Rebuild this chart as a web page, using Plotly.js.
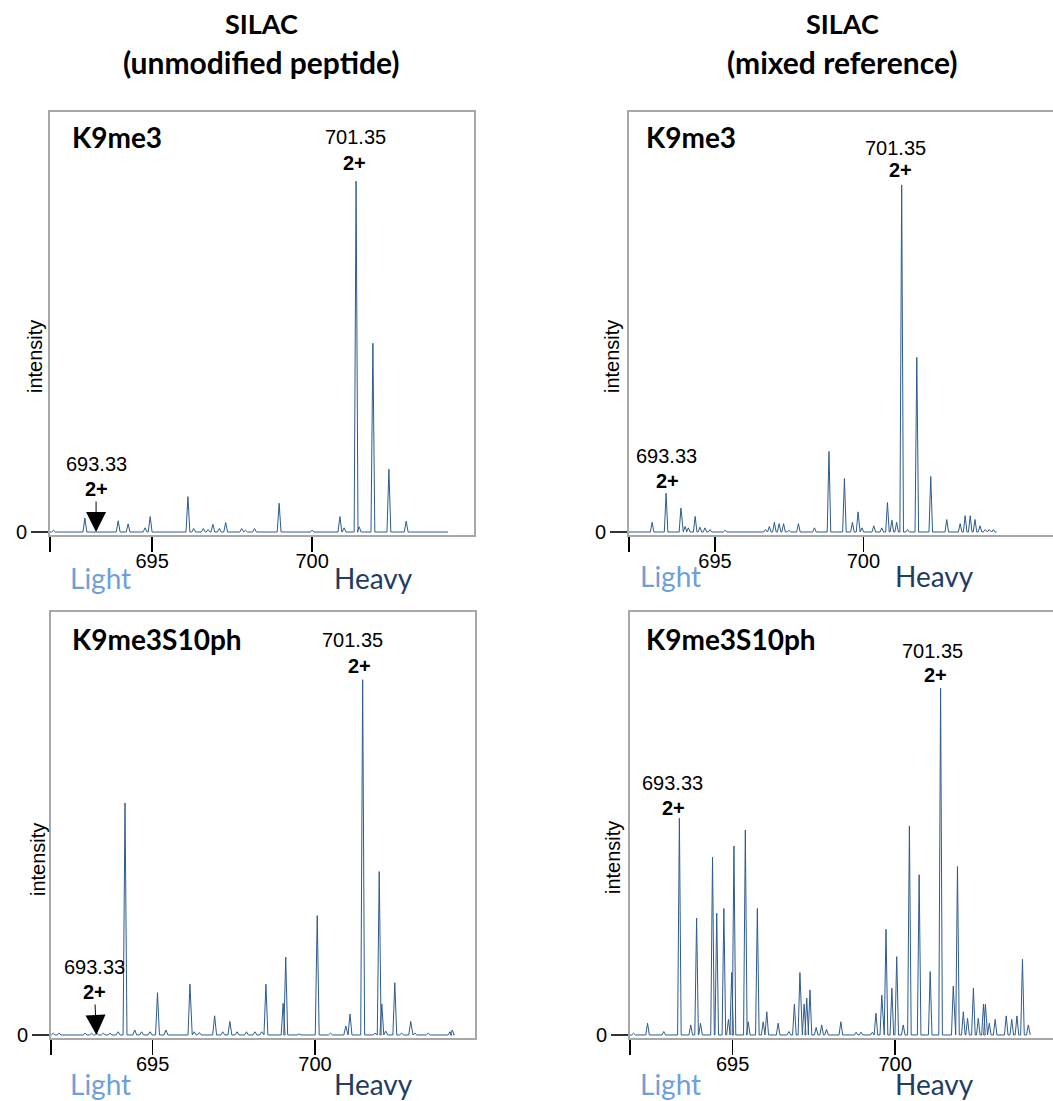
<!DOCTYPE html>
<html><head><meta charset="utf-8">
<script src="https://cdn.plot.ly/plotly-3.0.1.min.js"></script>
<style>html,body{margin:0;padding:0;background:#fff;}#chart{width:1053px;height:1101px;}</style>
</head><body><div id="chart"></div>
<script>
// ---------------- DATA ----------------
const columnHeaders = ['SILAC', '(unmodified peptide)', 'SILAC', '(mixed reference)'];
const panelLabels = ['K9me3', 'K9me3', 'K9me3S10ph', 'K9me3S10ph'];
const tickVals = [695, 700];
const tickText = ['695', '700'];
const yTickVals = [0];
const yTickText = ['0'];
const yTitle = 'intensity';
const lightLabel = 'Light';
const heavyLabel = 'Heavy';
const lightMz = '693.33';
const heavyMz = '701.35';
const chargeLabel = '2+';

// Top-left: K9me3, SILAC unmodified peptide (relative intensity, max = 100)
const tlScan = [691.81, 704.25];
const tlMz  = [691.92, 692.90, 693.94, 694.25, 694.78, 694.94, 696.12, 696.30, 696.60, 696.75, 696.90, 697.10, 697.30, 697.80, 697.92, 698.20, 698.97, 700.00, 700.87, 701.00, 701.375, 701.47, 701.90, 702.40, 702.94];
const tlInt = [0.5,    4.0,    3.2,    2.3,    1.2,    4.4,    10.1,   1.0,    1.0,    0.7,    2.2,    1.0,    2.7,    1.0,    0.5,    1.0,    8.2,    0.5,    4.4,    1.2,    100,     1.5,    53.8,   17.9,   3.1];

// Top-right: K9me3, SILAC mixed reference
const trScan = [692.10, 704.49];
const trMz  = [692.88, 693.35, 693.85, 693.99, 694.10, 694.33, 694.49, 694.66, 694.83, 695.34, 696.70, 696.83, 697.00, 697.16, 697.31, 697.49, 697.81, 698.35, 698.84, 699.36, 699.63, 699.82, 699.95, 700.35, 700.62, 700.81, 700.96, 701.12, 701.29, 701.49, 701.80, 702.27, 702.81, 703.26, 703.43, 703.60, 703.76, 703.93, 704.10, 704.24, 704.38];
const trInt = [2.8,    11.2,   6.9,    1.6,    1.2,    4.5,    1.4,    1.2,    0.7,    0.5,    0.7,    1.6,    2.8,    2.4,    2.4,    0.5,    2.4,    1.2,    23.2,   15.4,   2.8,    5.8,    1.2,    1.8,    1.2,    8.5,    3.4,    2.8,    100,    0.7,    50.3,   16.0,   3.6,    2.4,    4.7,    4.7,    3.6,    1.8,    0.7,    0.7,    0.7];

// Bottom-left: K9me3S10ph, SILAC unmodified peptide
const blScan = [691.87, 704.26];
const blMz  = [691.94, 692.12, 692.92, 693.12, 693.28, 693.48, 693.69, 693.94, 694.15, 694.45, 694.66, 694.92, 695.15, 695.41, 696.15, 696.28, 696.44, 696.91, 697.16, 697.38, 697.60, 697.89, 698.15, 698.36, 698.49, 699.02, 699.10, 699.51, 700.07, 700.48, 700.95, 701.08, 701.47, 701.85, 701.98, 702.06, 702.18, 702.46, 702.67, 702.95, 703.08, 703.49, 704.16, 704.23];
const blInt = [0.5,    0.5,    0.5,    0.5,    0.5,    0.5,    0.5,    0.9,    65.3,   1.4,    0.9,    0.9,    11.9,   1.4,    14.3,   0.9,    0.7,    5.4,    0.9,    3.8,    0.9,    0.9,    0.9,    0.9,    14.3,   8.9,    21.9,   0.3,    33.6,   0.5,    2.5,    5.9,    100,    0.5,    46.0,   8.7,    1.1,    14.7,   0.5,    3.8,    0.5,    0.5,    0.9,    1.4];

// Bottom-right: K9me3S10ph, SILAC mixed reference
const brScan = [691.84, 704.16];
const brMz  = [691.95, 692.38, 692.88, 693.36, 693.71, 693.89, 694.01, 694.38, 694.51, 694.73, 694.87, 694.97, 695.04, 695.39, 695.48, 695.76, 695.94, 696.05, 696.40, 696.73, 696.90, 697.07, 697.20, 697.28, 697.38, 697.57, 697.74, 697.89, 698.33, 698.80, 698.95, 699.30, 699.41, 699.59, 699.72, 699.90, 700.05, 700.25, 700.44, 700.74, 701.08, 701.40, 701.79, 701.92, 702.10, 702.23, 702.41, 702.56, 702.72, 702.78, 702.90, 703.08, 703.42, 703.59, 703.75, 703.92, 704.10];
const brInt = [0.5,    3.4,    1.0,    62.5,   2.9,    33.7,   3.4,    51.3,   35.1,   36.5,   4.5,    18.0,   54.5,   59.1,   3.8,    36.5,   3.8,    6.7,    3.4,    1.0,    8.9,    18.0,   8.9,    10.6,   13.0,   2.2,    2.9,    1.6,    3.8,    0.8,    0.8,    0.8,    6.3,    11.5,   30.5,   13.5,   22.6,   2.9,    60.3,   46.2,   18.3,   100,    14.1,   48.6,   6.7,    4.8,    13.5,   4.8,    8.9,    8.9,    3.4,    4.5,    5.5,    4.5,    5.5,    21.8,   2.9];

// ---------------- LAYOUT HELPERS ----------------
const W = 1053, H = 1101;
const px = v => v / W;
const py = v => 1 - v / H;
const LINE = '#2e5b8f';
const FRAME = '#a8a8a8';
const ARIAL = 'Liberation Sans, Arial, sans-serif';
const CAL = 'Lato, Carlito, Calibri, sans-serif';

function profile(mz, inten, scan, hw) {
  const xs = [scan[0]], ys = [0];
  mz.forEach((m, i) => {
    xs.push(m - hw, m, m + hw);
    ys.push(0, inten[i], 0);
  });
  xs.push(scan[1]); ys.push(0);
  return {x: xs, y: ys};
}

// panel geometry in pixels: frame left/right/top/bottom, x range, y range
const panels = [
  {mz: tlMz, inten: tlInt, scan: tlScan, L: 50,  R: 473.7, T: 112,   B: 535,  xr: [691.81, 705.05], yr: [-0.85, 119.7], mirrorY: true,  hw: 0.06},
  {mz: trMz, inten: trInt, scan: trScan, L: 629, R: 1053,  T: 112,   B: 535,  xr: [692.10, 706.39], yr: [-0.86, 121.0], mirrorY: false, hw: 0.06},
  {mz: blMz, inten: blInt, scan: blScan, L: 51,  R: 475,   T: 611.5, B: 1038, xr: [691.87, 704.93], yr: [-0.85, 119.2], mirrorY: true,  hw: 0.06},
  {mz: brMz, inten: brInt, scan: brScan, L: 630, R: 1053,  T: 612,   B: 1038, xr: [691.84, 704.86], yr: [-0.87, 122.0], mirrorY: false, hw: 0.055}
];

const traces = [];
const layout = {
  width: W, height: H,
  margin: {l: 0, r: 0, t: 0, b: 0},
  paper_bgcolor: '#fff', plot_bgcolor: '#fff',
  showlegend: false,
  annotations: []
};

panels.forEach((p, i) => {
  const n = i + 1;
  const xa = 'xaxis' + (n === 1 ? '' : n), ya = 'yaxis' + (n === 1 ? '' : n);
  const xid = 'x' + (n === 1 ? '' : n), yid = 'y' + (n === 1 ? '' : n);
  const prof = profile(p.mz, p.inten, p.scan, p.hw);
  traces.push({
    type: 'scatter', mode: 'lines', x: prof.x, y: prof.y,
    xaxis: xid, yaxis: yid,
    line: {color: LINE, width: 1}, hoverinfo: 'skip'
  });
  layout[xa] = {
    domain: [px(p.L), px(p.R)], range: p.xr, anchor: yid,
    showgrid: false, zeroline: false,
    showline: true, mirror: true, linecolor: FRAME, linewidth: 2,
    ticks: 'outside', ticklen: 15, tickwidth: 1.5, tickcolor: '#000',
    tickmode: 'array', tickvals: [p.xr[0]].concat(tickVals), ticktext: [''].concat(tickText),
    ticklabelstandoff: -8,
    tickfont: {family: ARIAL, size: 20, color: '#000'}
  };
  layout[ya] = {
    domain: [py(p.B), py(p.T)], range: p.yr, anchor: xid,
    showgrid: false, zeroline: false,
    showline: true, mirror: p.mirrorY, linecolor: FRAME, linewidth: 2,
    ticks: 'outside', ticklen: 17, tickwidth: 1.5, tickcolor: '#333',
    tickmode: 'array', tickvals: yTickVals, ticktext: yTickText,
    ticklabelstandoff: 0,
    tickfont: {family: ARIAL, size: 20, color: '#000'}
  };
});

function ann(x, y, text, font, extra) {
  layout.annotations.push(Object.assign({
    xref: 'paper', yref: 'paper', x: px(x), y: py(y), text: text,
    showarrow: false, xanchor: 'center', yanchor: 'middle', font: font
  }, extra || {}));
}

const hdrFont1 = {family: CAL, size: 27, color: '#000'};
const hdrFont2 = {family: CAL, size: 30, color: '#000'};
ann(261, 24, '<b>' + columnHeaders[0] + '</b>', hdrFont1);
ann(261, 62, '<b>' + columnHeaders[1] + '</b>', hdrFont2);
ann(842, 24, '<b>' + columnHeaders[2] + '</b>', hdrFont1);
ann(842, 62, '<b>' + columnHeaders[3] + '</b>', hdrFont2);

const lblFont = {family: CAL, size: 28, color: '#000'};
ann(70, 137, '<b>' + panelLabels[0] + '</b>', lblFont, {xanchor: 'left'});
ann(644, 137, '<b>' + panelLabels[1] + '</b>', lblFont, {xanchor: 'left'});
ann(70, 639, '<b>' + panelLabels[2] + '</b>', lblFont, {xanchor: 'left'});
ann(644, 639, '<b>' + panelLabels[3] + '</b>', lblFont, {xanchor: 'left'});

const titleFont = {family: ARIAL, size: 20, color: '#000'};
ann(35, 357, yTitle, titleFont, {textangle: -90});
ann(612, 357, yTitle, titleFont, {textangle: -90});
ann(38, 860, yTitle, titleFont, {textangle: -90});
ann(613, 858, yTitle, titleFont, {textangle: -90});

const lightFont = {family: CAL, size: 28, color: '#6f9fd8'};
const heavyFont = {family: CAL, size: 28, color: '#1f3c66'};
ann(100, 578, lightLabel, lightFont);
ann(373, 578, heavyLabel, heavyFont);
ann(670, 576, lightLabel, lightFont);
ann(934, 576, heavyLabel, heavyFont);
ann(100, 1084, lightLabel, lightFont);
ann(373, 1084, heavyLabel, heavyFont);
ann(670, 1084, lightLabel, lightFont);
ann(934, 1084, heavyLabel, heavyFont);

const mzFont = {family: ARIAL, size: 20, color: '#000'};
const zFont = {family: ARIAL, size: 20, color: '#000'};
// heavy peak labels
ann(355, 137, heavyMz, mzFont); ann(354, 163, '<b>' + chargeLabel + '</b>', zFont);
ann(895, 148, heavyMz, mzFont); ann(900, 170, '<b>' + chargeLabel + '</b>', zFont);
ann(352, 640, heavyMz, mzFont); ann(359, 666, '<b>' + chargeLabel + '</b>', zFont);
ann(932, 651, heavyMz, mzFont); ann(935, 675, '<b>' + chargeLabel + '</b>', zFont);
// light peak labels
ann(96, 464, lightMz, mzFont);
ann(666, 456, lightMz, mzFont); ann(667, 481, '<b>' + chargeLabel + '</b>', zFont);
ann(94, 967, lightMz, mzFont);
ann(672, 783, lightMz, mzFont); ann(673, 808, '<b>' + chargeLabel + '</b>', zFont);
// arrows pointing at the (absent) light peak in the unmodified-peptide panels
layout.annotations.push({
  xref: 'x', yref: 'y', x: 693.25, y: 0, text: '<b>' + chargeLabel + '</b>', font: zFont,
  showarrow: true, ax: 0, ay: -43, arrowhead: 2, arrowsize: 4, arrowwidth: 1, arrowcolor: '#000'
});
layout.annotations.push({
  xref: 'x3', yref: 'y3', x: 693.27, y: 0, text: '<b>' + chargeLabel + '</b>', font: zFont,
  showarrow: true, ax: -2, ay: -43, arrowhead: 2, arrowsize: 4, arrowwidth: 1, arrowcolor: '#000'
});

Plotly.newPlot('chart', traces, layout, {displayModeBar: false, staticPlot: true});
</script>
</body></html>
